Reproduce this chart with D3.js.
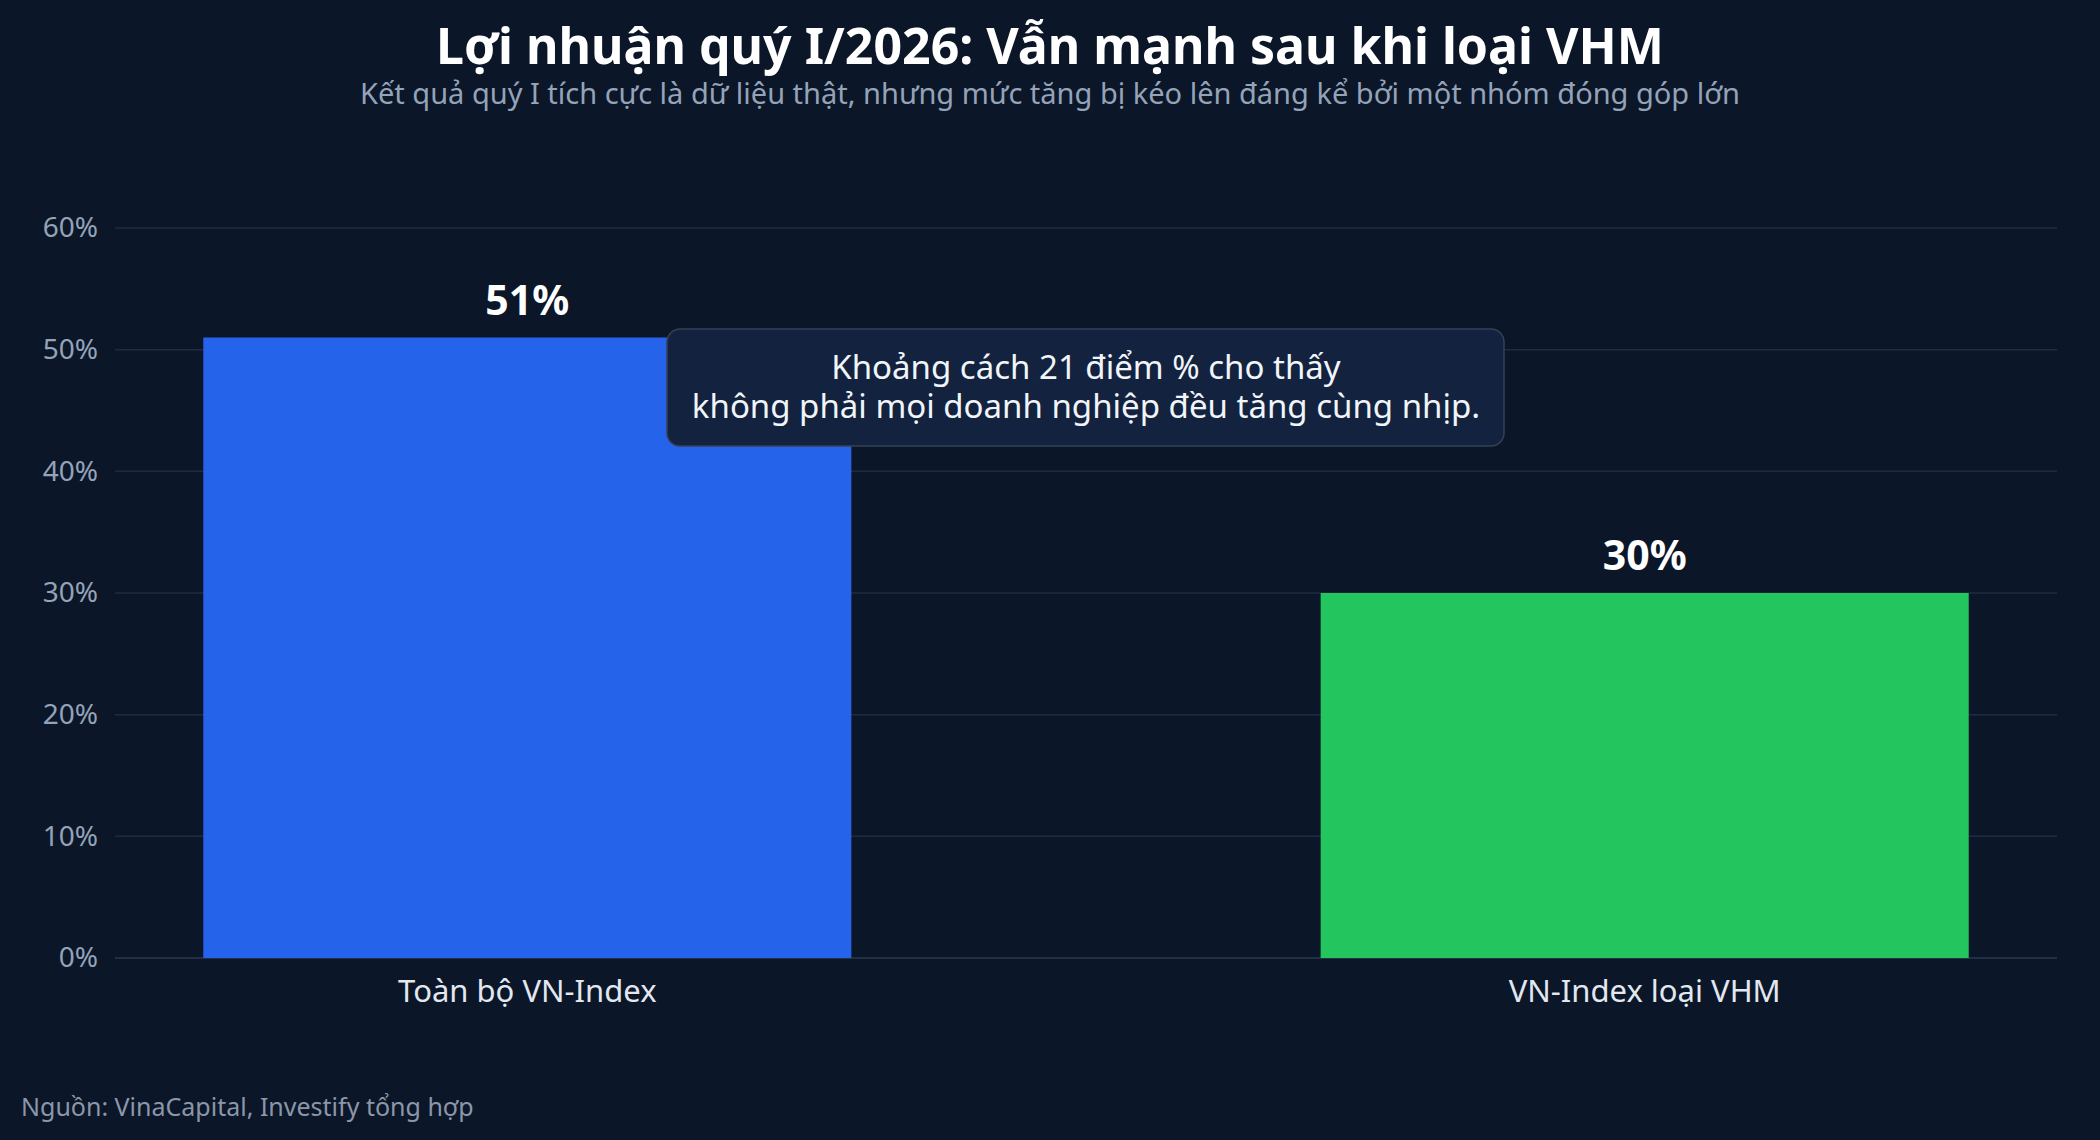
<!DOCTYPE html>
<html><head><meta charset="utf-8">
<script src="https://cdn.jsdelivr.net/npm/d3@7/dist/d3.min.js"></script>
<style>body{margin:0;background:#0b1628;font-family:"Noto Sans",sans-serif}</style>
</head><body><svg id="c" width="2100" height="1140"></svg>
<script>
var categories = ["Toàn bộ VN-Index", "VN-Index loại VHM"];
var values = [51, 30];
var barColors = ["#2563eb", "#22c55e"];
var yTicks = [0, 10, 20, 30, 40, 50, 60];

var svg = d3.select("#c");
svg.append("rect").attr("width", 2100).attr("height", 1140).attr("fill", "#0b1628");

var x = d3.scaleBand().domain(categories).range([115, 2057]).paddingInner(0.42).paddingOuter(0.079);
var y = d3.scaleLinear().domain([0, 60]).range([958, 228]);

// grid
svg.selectAll("line.grid").data(yTicks).enter().append("line")
    .attr("x1", 115).attr("x2", 2057)
    .attr("y1", function(d){ return y(d); }).attr("y2", function(d){ return y(d); })
    .attr("stroke", function(d){ return d === 0 ? "#2b3a50" : "#1f2c40"; }).attr("stroke-width", 1.5);

var yAxis = svg.append("g").attr("transform", "translate(115,0)")
    .call(d3.axisLeft(y).tickValues(yTicks).tickFormat(function(d){ return d + "%"; }).tickSize(0).tickPadding(17));
yAxis.select(".domain").remove();
yAxis.selectAll("text").attr("fill", "#94a3b8").attr("font-size", 28).attr("font-family", "Noto Sans");

var xAxis = svg.append("g").attr("transform", "translate(0,958)")
    .call(d3.axisBottom(x).tickSize(0).tickPadding(22));
xAxis.select(".domain").remove();
xAxis.selectAll("text").attr("fill", "#e2e8f0").attr("font-size", 31).attr("font-family", "Noto Sans");

svg.selectAll("rect.bar").data(values).enter().append("rect")
    .attr("x", function(d,i){ return x(categories[i]); })
    .attr("y", function(d){ return y(d); })
    .attr("width", x.bandwidth())
    .attr("height", function(d){ return y(0) - y(d); })
    .attr("fill", function(d,i){ return barColors[i]; });

svg.selectAll("text.val").data(values).enter().append("text")
    .attr("x", function(d,i){ return x(categories[i]) + x.bandwidth()/2; })
    .attr("y", function(d){ return y(d) - 23; })
    .attr("text-anchor", "middle").attr("fill", "#ffffff")
    .attr("font-size", 41).attr("font-weight", "bold")
    .text(function(d){ return d + "%"; });

// annotation
svg.append("rect").attr("x", 667).attr("y", 329).attr("width", 837).attr("height", 117)
    .attr("rx", 13).attr("fill", "#13233f").attr("stroke", "#334155").attr("stroke-width", 1.5);
svg.append("text").attr("x", 1086).attr("y", 379).attr("text-anchor", "middle")
    .attr("fill", "#f1f5f9").attr("font-size", 33).text("Khoảng cách 21 điểm % cho thấy");
svg.append("text").attr("x", 1086).attr("y", 418).attr("text-anchor", "middle")
    .attr("fill", "#f1f5f9").attr("font-size", 33).text("không phải mọi doanh nghiệp đều tăng cùng nhịp.");

svg.append("text").attr("x", 1050).attr("y", 64).attr("text-anchor", "middle")
    .attr("fill", "#ffffff").attr("font-size", 50).attr("font-weight", "bold")
    .text("Lợi nhuận quý I/2026: Vẫn mạnh sau khi loại VHM");
svg.append("text").attr("x", 1050).attr("y", 104).attr("text-anchor", "middle")
    .attr("fill", "#94a3b8").attr("font-size", 29)
    .text("Kết quả quý I tích cực là dữ liệu thật, nhưng mức tăng bị kéo lên đáng kể bởi một nhóm đóng góp lớn");
svg.append("text").attr("x", 21).attr("y", 1116)
    .attr("fill", "#8b97a8").attr("font-size", 25).text("Nguồn: VinaCapital, Investify tổng hợp");
</script></body></html>
